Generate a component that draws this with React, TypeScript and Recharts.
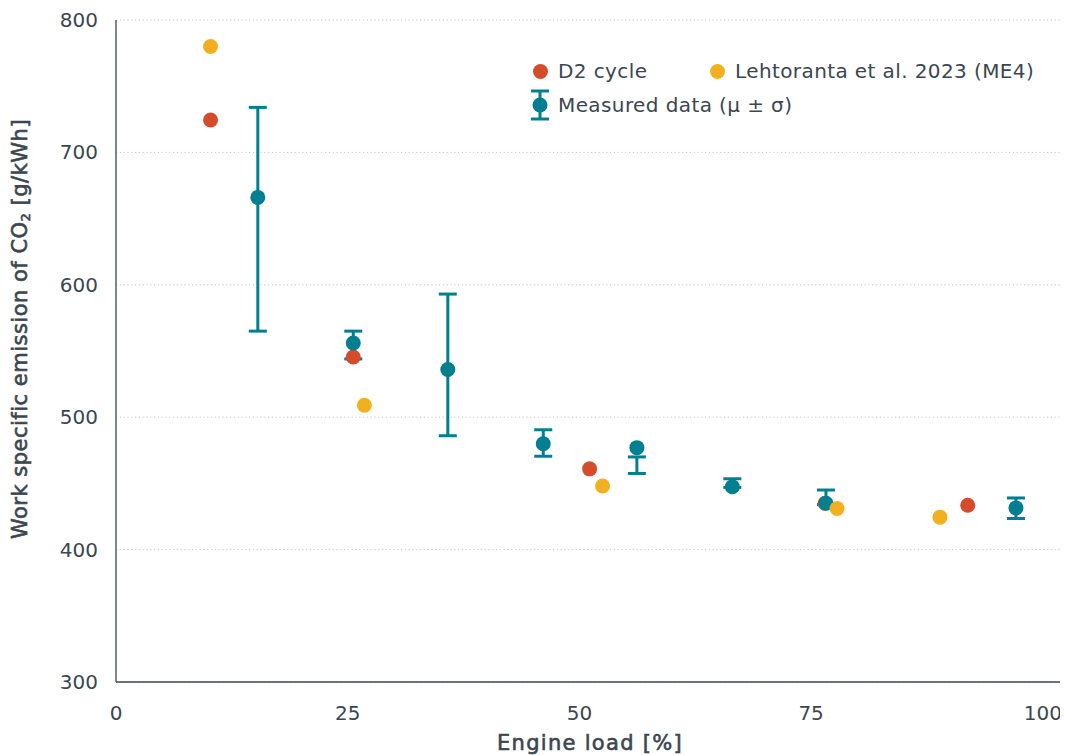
import {
  CartesianGrid,
  ErrorBar,
  Scatter,
  ScatterChart,
  XAxis,
  YAxis,
} from 'recharts'

const FONT = '"DejaVu Sans", sans-serif'
const TEXT = '#3c4650'
const RED = '#d64b2a'
const YELLOW = '#f2b01e'
const TEAL = '#007f91'

// engine load [%] and CO2 [g/kWh]
const d2Load = [10.2, 25.6, 51.1, 76.5, 91.9]
const d2Co2 = [724.5, 545.5, 461, 435, 433.5]

const lehtoLoad = [10.2, 26.8, 52.5, 77.8, 88.9]
const lehtoCo2 = [780, 509, 448, 431, 424.5]

const measLoad = [15.3, 25.6, 35.8, 46.1, 56.2, 66.5, 76.6, 97.1]
const measMean = [666, 556, 536, 480, 477, 447.5, 435, 431.5]
const measLow = [101, 12, 50, 9.5, 19.5, 0.5, 1, 8] // mean - lower whisker
const measHigh = [68, 9, 57, 10.5, -7, 6, 10, 7.5] // upper whisker - mean

const xTicks = [0, 25, 50, 75, 100]
const yTicks = [300, 400, 500, 600, 700, 800]

const d2Data = d2Load.map((x, i) => ({ x, y: d2Co2[i] }))
const lehtoData = lehtoLoad.map((x, i) => ({ x, y: lehtoCo2[i] }))
const measData = measLoad.map((x, i) => ({
  x,
  y: measMean[i],
  err: [measLow[i], measHigh[i]],
}))

const dot = (color: string) => (p: any) =>
  <circle cx={p.cx} cy={p.cy} r={7.5} fill={color} />

// medium-weight look for the axis titles
const titleStyle = {
  fill: TEXT,
  stroke: TEXT,
  strokeWidth: 0.6,
  fontSize: 21,
  fontFamily: FONT,
}

function XTick(props: any) {
  const { x, y, payload } = props
  return (
    <text x={x} y={y + 30} textAnchor="middle" fill={TEXT} fontSize={20} fontFamily={FONT}>
      {payload.value}
    </text>
  )
}

function YTick(props: any) {
  const { x, y, payload } = props
  return (
    <text x={x - 10} y={y + 7} textAnchor="end" fill={TEXT} fontSize={20} fontFamily={FONT}>
      {payload.value}
    </text>
  )
}

function LegendBox() {
  const item = { position: 'absolute' as const, lineHeight: '24px', whiteSpace: 'nowrap' as const, letterSpacing: 0.4 }
  const circ = (color: string, left: number, top: number) => (
    <span
      style={{
        position: 'absolute',
        left: left - 7.5,
        top: top - 7.5,
        width: 15,
        height: 15,
        borderRadius: '50%',
        background: color,
      }}
    />
  )
  return (
    <div
      style={{
        position: 'absolute',
        left: 514,
        top: 42,
        width: 540,
        height: 80,
        fontFamily: FONT,
        fontSize: 20,
        color: TEXT,
      }}
    >
      {circ(RED, 18, 21)}
      <span style={{ ...item, left: 36, top: 9 }}>D2 cycle</span>
      {circ(YELLOW, 195, 21)}
      <span style={{ ...item, left: 213, top: 9 }}>Lehtoranta et al. 2023 (ME4)</span>
      <svg width={20} height={32} style={{ position: 'absolute', left: 8, top: 39 }}>
        <line x1={1} x2={19} y1={2} y2={2} stroke={TEAL} strokeWidth={3} />
        <line x1={10} x2={10} y1={2} y2={30} stroke={TEAL} strokeWidth={3} />
        <line x1={1} x2={19} y1={30} y2={30} stroke={TEAL} strokeWidth={3} />
        <circle cx={10} cy={16} r={7.5} fill={TEAL} />
      </svg>
      <span style={{ ...item, left: 36, top: 43 }}>Measured data (μ ± σ)</span>
    </div>
  )
}

export default function App() {
  return (
    <div style={{ position: 'relative', width: 1060, height: 747 }}>
      <ScatterChart width={1060} height={747} margin={{ top: 12, right: 2, left: 0, bottom: 0 }}>
        <CartesianGrid vertical={false} stroke="#c4c4c4" strokeDasharray="1.2 2.6" />
        <XAxis
          type="number"
          dataKey="x"
          domain={[0, 102.5]}
          ticks={xTicks}
          interval={0}
          height={73}
          tick={<XTick />}
          tickLine={false}
          axisLine={{ stroke: TEXT, strokeWidth: 1.3 }}
          label={{
            content: () => (
              <text x={582} y={742} textAnchor="middle" letterSpacing={1.3} {...titleStyle}>
                Engine load [%]
              </text>
            ),
          }}
        />
        <YAxis
          type="number"
          dataKey="y"
          domain={[300, 800]}
          ticks={yTicks}
          interval={0}
          width={108}
          tick={<YTick />}
          tickLine={false}
          axisLine={{ stroke: TEXT, strokeWidth: 1.3 }}
          label={{
            content: () => (
              <text
                x={12}
                y={321}
                transform="rotate(-90 12 321)"
                textAnchor="middle"
                dominantBaseline="central"
                letterSpacing={0.5}
                {...titleStyle}
              >
                Work specific emission of CO
                <tspan fontSize={13} dy={5}>2</tspan>
                <tspan dy={-5}> [g/kWh]</tspan>
              </text>
            ),
          }}
        />
        <Scatter name="D2 cycle" data={d2Data} fill={RED} shape={dot(RED)} isAnimationActive={false} />
        <Scatter name="Measured data" data={measData} fill={TEAL} shape={dot(TEAL)} isAnimationActive={false}>
          <ErrorBar dataKey="err" direction="y" stroke={TEAL} strokeWidth={3} width={9} />
        </Scatter>
        <Scatter name="Lehtoranta et al. 2023 (ME4)" data={lehtoData} fill={YELLOW} shape={dot(YELLOW)} isAnimationActive={false} />
      </ScatterChart>
      <LegendBox />
    </div>
  )
}
